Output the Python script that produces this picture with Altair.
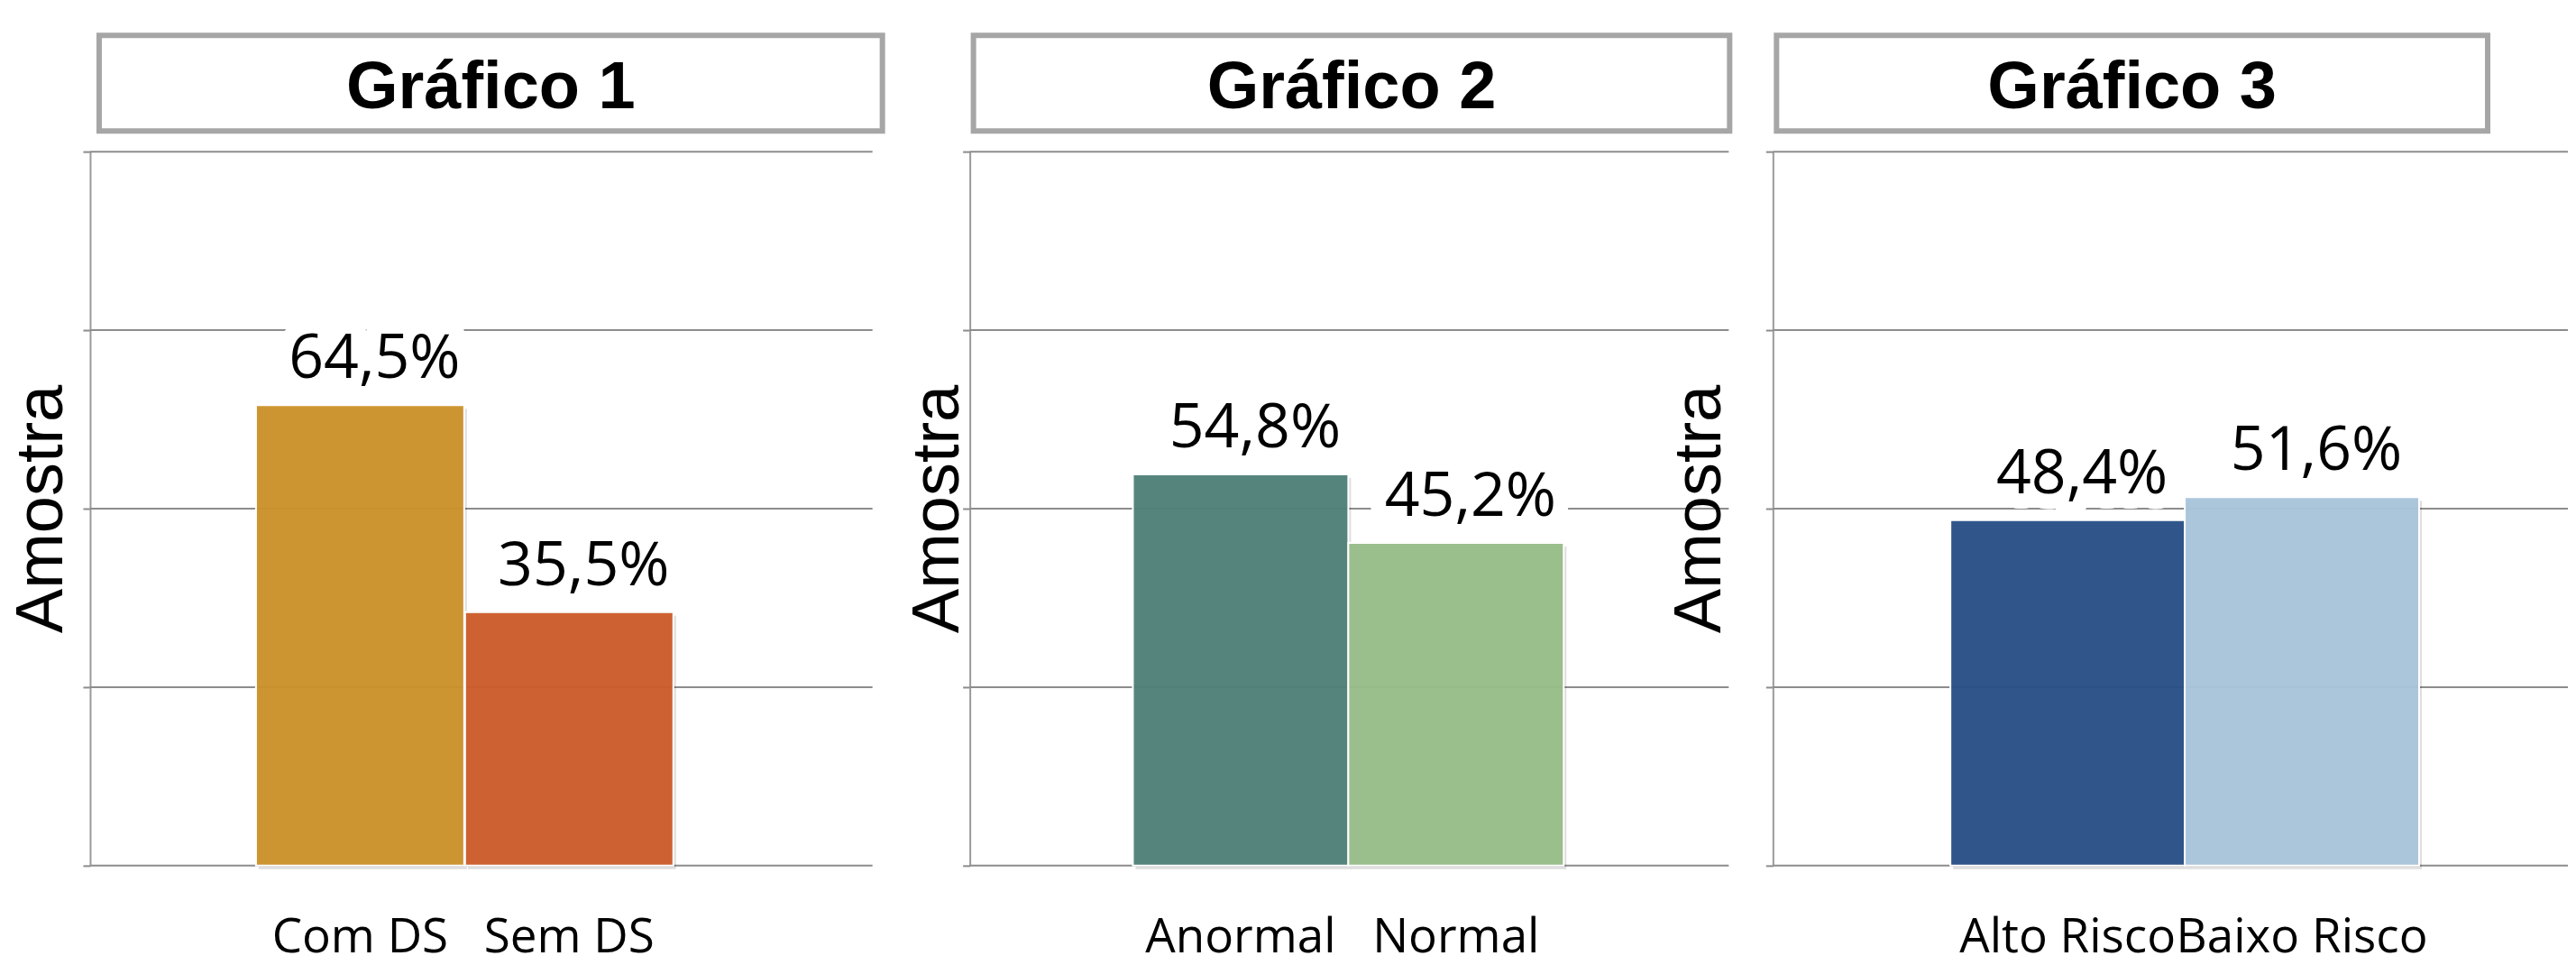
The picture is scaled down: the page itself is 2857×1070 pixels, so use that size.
import altair as alt
import pandas as pd

titles = ["Gráfico 1", "Gráfico 2", "Gráfico 3"]
y_title = "Amostra"

cats1 = ["Com DS", "Sem DS"]
vals1 = [64.5, 35.5]
colors1 = ["#CB922B", "#CC5C2A"]

cats2 = ["Anormal", "Normal"]
vals2 = [54.8, 45.2]
colors2 = ["#4F8079", "#97BC88"]

cats3 = ["Alto Risco", "Baixo Risco"]
vals3 = [48.4, 51.6]
colors3 = ["#284F87", "#A9C4DB"]

y_ticks = [0, 25, 50, 75, 100]

H = 792
GRID = "#8C8C8C"
BOX = "#A6A6A6"


def fmt(v):
    return f"{v:.1f}".replace(".", ",") + "%"


def panel(title, cats, vals, colors, width, grid_w, pad_inner, pad_outer, align,
          title_x, box_x, box_x2):
    df = pd.DataFrame({"cat": cats, "val": vals, "color": colors,
                       "label": [fmt(v) for v in vals]})
    tdf = pd.DataFrame({"title": [title]})
    gdf = pd.DataFrame({"tick": y_ticks})
    x = alt.X(
        "cat:N",
        sort=cats,
        scale=alt.Scale(paddingInner=pad_inner, paddingOuter=pad_outer, align=align),
        axis=alt.Axis(
            title=None, labelAngle=0, labelFont="Open Sans", labelFontSize=53,
            labelColor="black", labelPadding=96, labelBaseline="alphabetic",
            ticks=False, tickSize=0, domain=False, labelOverlap=False,
            labelLimit=2000, grid=False,
        ),
    )
    yscale = alt.Scale(domain=[0, 100], nice=False, zero=True)
    yaxis = alt.Axis(
        title=y_title, values=y_ticks, labels=False, tickSize=8,
        tickColor=GRID, tickWidth=2, grid=False,
        domainColor="#9A9A9A", domainWidth=2,
        titleFont="Liberation Sans", titleFontSize=74, titleFontWeight="normal",
        titleColor="black", titleAngle=270, titleX=title_x, titleY=H / 2,
        titleBaseline="alphabetic", titleAlign="center",
    )
    y = alt.Y("val:Q", scale=yscale, axis=yaxis)
    grid = alt.Chart(gdf).mark_rule(color=GRID, strokeWidth=2).encode(
        y=alt.Y("tick:Q", scale=yscale, axis=yaxis),
        x=alt.value(0), x2=alt.value(grid_w),
    )
    base = alt.Chart(df)
    mask = base.mark_text(
        font="Open Sans", fontSize=68, baseline="alphabetic", dy=-30, dx=16,
        stroke="white", strokeWidth=34, strokeJoin="round", color="white",
    ).encode(x=x, y=y, text="label:N")
    shadow = base.mark_bar(color="black", opacity=0.13, xOffset=3, yOffset=4).encode(x=x, y=y)
    bars = base.mark_bar(stroke="white", strokeWidth=2, fillOpacity=0.96).encode(
        x=x, y=y, color=alt.Color("color:N", scale=None, legend=None))
    labels = base.mark_text(
        font="Open Sans", fontSize=68, baseline="alphabetic", dy=-30, dx=16, color="black",
    ).encode(x=x, y=y, text="label:N")
    box = alt.Chart(tdf).mark_rect(
        fill="white", fillOpacity=0, stroke=BOX, strokeWidth=6,
    ).encode(
        x=alt.value(box_x), x2=alt.value(box_x2), y=alt.value(-129), y2=alt.value(-23)
    )
    ttext = alt.Chart(tdf).mark_text(
        font="Liberation Sans", fontSize=74, fontWeight="bold", baseline="alphabetic",
        align="center", color="black",
    ).encode(x=alt.value((box_x + box_x2) / 2), y=alt.value(-48), text="title:N")
    return alt.layer(grid, mask, shadow, bars, labels, box, ttext).properties(width=width, height=H)


p1 = panel(titles[0], cats1, vals1, colors1, 927, 868, 0.0043, 1.0, 0.3966, -31, 10, 879)
p2 = panel(titles[1], cats2, vals2, colors2, 842, 842, 0.0, 0.7615, 0.497, -13, 4, 843)
p3 = panel(titles[2], cats3, vals3, colors3, 882, 882, 0.0, 0.696, 0.544, -59, 4, 793)

chart = alt.hconcat(p1, p2, p3, spacing=49, bounds="flush").resolve_scale(
    x="independent", y="independent"
).properties(
    padding={"left": 2, "top": 28, "right": 0, "bottom": 0},
    background="white",
).configure_view(stroke=None)

chart.save("out.html", embed_options={"renderer": "svg", "actions": False})
